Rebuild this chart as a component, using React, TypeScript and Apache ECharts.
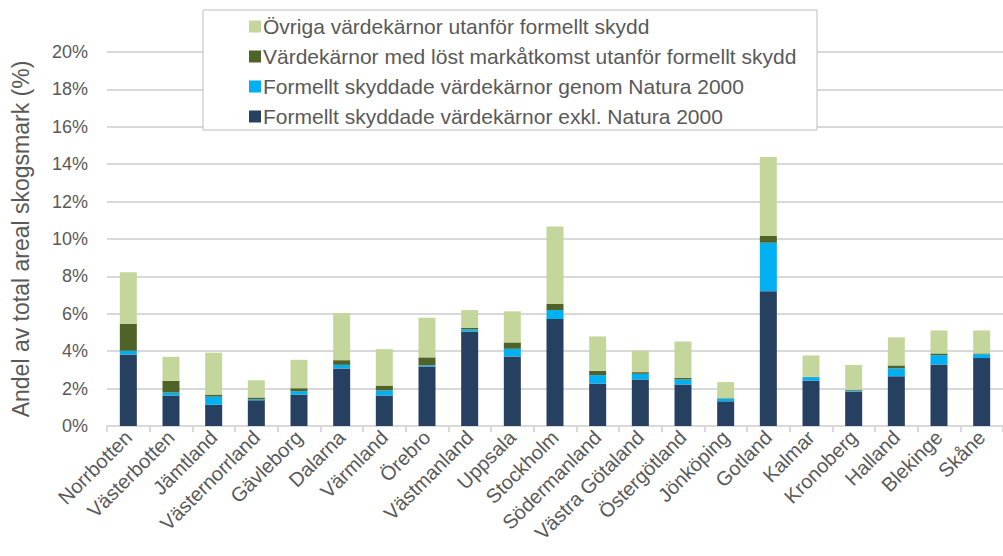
import React, { useEffect, useRef } from "react";
import * as echarts from "echarts";

const categories = [
  "Norrbotten", "Västerbotten", "Jämtland", "Västernorrland", "Gävleborg", "Dalarna",
  "Värmland", "Örebro", "Västmanland", "Uppsala", "Stockholm", "Södermanland",
  "Västra Götaland", "Östergötland", "Jönköping", "Gotland", "Kalmar", "Kronoberg",
  "Halland", "Blekinge", "Skåne",
];

const exklNatura = [3.83, 1.63, 1.14, 1.38, 1.68, 3.08, 1.63, 3.18, 5.06, 3.72, 5.72, 2.27, 2.49, 2.22, 1.32, 7.21, 2.43, 1.84, 2.66, 3.29, 3.63];
const genomNatura = [0.19, 0.16, 0.43, 0.05, 0.18, 0.19, 0.27, 0.06, 0.11, 0.41, 0.48, 0.45, 0.30, 0.27, 0.15, 2.59, 0.18, 0.05, 0.42, 0.50, 0.21];
const lostMarkatkomst = [1.45, 0.62, 0.11, 0.09, 0.16, 0.25, 0.26, 0.43, 0.07, 0.34, 0.34, 0.23, 0.09, 0.08, 0.02, 0.36, 0.02, 0.05, 0.16, 0.09, 0.04];
const ovriga = [2.75, 1.29, 2.24, 0.93, 1.52, 2.52, 1.95, 2.12, 0.96, 1.66, 4.13, 1.84, 1.14, 1.95, 0.86, 4.23, 1.14, 1.32, 1.50, 1.23, 1.23];

const seriesNames = [
  "Formellt skyddade värdekärnor exkl. Natura 2000",
  "Formellt skyddade värdekärnor genom Natura 2000",
  "Värdekärnor med löst markåtkomst utanför formellt skydd",
  "Övriga värdekärnor utanför formellt skydd",
];
const seriesColors = ["#264061", "#00b0f0", "#4f6228", "#c4d69b"];
const seriesData = [exklNatura, genomNatura, lostMarkatkomst, ovriga];

const yTicks = { min: 0, max: 20, interval: 2 };

const FONT = "'Liberation Sans', Arial, sans-serif";
const TEXT = "#595959";

export default function App() {
  const ref = useRef<HTMLDivElement>(null);
  useEffect(() => {
    document.body.style.margin = "0";
    const chart = echarts.init(ref.current!, null, { renderer: "svg" });
    chart.setOption({
      animation: false,
      textStyle: { fontFamily: FONT },
      grid: { left: 107, right: -7, top: 52, bottom: 130 },
      graphic: [
        {
          type: "rect",
          shape: { x: 203, y: 10, width: 614, height: 120 },
          style: { fill: "#fff", stroke: "#bfbfbf", lineWidth: 1 },
          z: 10,
        },
      ],
      legend: {
        orient: "vertical",
        left: 244,
        top: 11,
        itemWidth: 12,
        itemHeight: 12,
        itemGap: 9,
        icon: "rect",
        z: 20,
        data: [seriesNames[3], seriesNames[2], seriesNames[1], seriesNames[0]],
        textStyle: { fontSize: 21, color: TEXT, fontFamily: FONT, padding: [0, 0, 0, -3] },
      },
      xAxis: {
        type: "category",
        data: categories,
        axisLine: { lineStyle: { color: "#d9d9d9", width: 2 } },
        axisTick: { show: true, length: 6, lineStyle: { color: "#d9d9d9", width: 2 } },
        axisLabel: { rotate: 45, interval: 0, fontSize: 20, color: TEXT, margin: 8 },
      },
      yAxis: {
        type: "value",
        min: yTicks.min,
        max: yTicks.max,
        interval: yTicks.interval,
        name: "Andel av total areal skogsmark (%)",
        nameLocation: "middle",
        nameRotate: 90,
        nameGap: 75,
        nameTextStyle: { fontSize: 23, color: TEXT },
        axisLine: { show: false },
        axisTick: { show: false },
        axisLabel: { formatter: "{value}%", fontSize: 18, color: TEXT, margin: 19 },
        splitLine: { lineStyle: { color: "#d9d9d9", width: 2 } },
      },
      series: seriesNames.map((name, i) => ({
        name,
        type: "bar",
        stack: "total",
        barWidth: 17,
        data: seriesData[i],
        itemStyle: { color: seriesColors[i] },
      })),
    });
    return () => chart.dispose();
  }, []);
  return <div ref={ref} style={{ width: 1003, height: 556 }} />;
}
